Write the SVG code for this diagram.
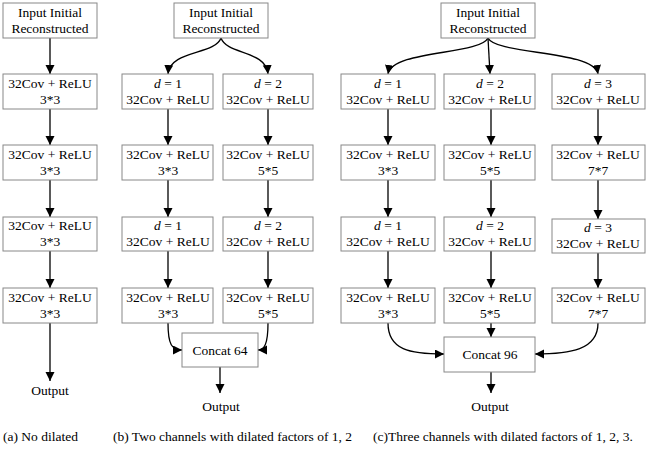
<svg xmlns="http://www.w3.org/2000/svg" width="650" height="449" viewBox="0 0 650 449" font-family="'Liberation Serif', 'Times New Roman', serif">
<style>
rect{fill:#fff;stroke:#888;stroke-width:1}
text{font-family:'Liberation Serif','Times New Roman',serif;font-size:13.5px;fill:#000;text-anchor:middle}
text.c{text-anchor:start}
.k path,.k line{fill:none;stroke:#000;stroke-width:1.3}
.h{fill:#000;stroke:none}
</style>
<defs><marker id="a" markerWidth="10" markerHeight="10" refX="9" refY="4.5" orient="auto" markerUnits="userSpaceOnUse"><path class="h" d="M0,0L9,4.5L0,9z"/></marker></defs>
<g id="connectors" class="k" marker-end="url(#a)">
<line x1="50" y1="38" x2="50" y2="74"/><line x1="50" y1="109" x2="50" y2="145"/><line x1="50" y1="180" x2="50" y2="217"/><line x1="50" y1="251" x2="50" y2="288"/><line x1="50" y1="323" x2="50" y2="381"/>
<path d="M221,38C215,55 170,50 168,74"/><path d="M221,38C227,55 266,50 268,74"/>
<line x1="168" y1="109" x2="168" y2="145"/><line x1="168" y1="180" x2="168" y2="217"/><line x1="168" y1="251" x2="168" y2="288"/>
<line x1="268" y1="109" x2="268" y2="145"/><line x1="268" y1="180" x2="268" y2="217"/><line x1="268" y1="251" x2="268" y2="288"/>
<path d="M168,323C168,345 172,350 182,350"/><path d="M268,323C268,345 264,350 258,350"/>
<line x1="220" y1="367" x2="220" y2="393"/>
<path d="M488,38C480,55 392,50 388,74"/><line x1="488" y1="38" x2="490" y2="74"/><path d="M488,38C496,55 594,50 598,74"/>
<line x1="388" y1="109" x2="388" y2="145"/><line x1="388" y1="180" x2="388" y2="217"/><line x1="388" y1="251" x2="388" y2="288"/>
<line x1="491" y1="109" x2="491" y2="145"/><line x1="491" y1="180" x2="491" y2="217"/><line x1="491" y1="251" x2="491" y2="288"/>
<line x1="598" y1="109" x2="598" y2="145"/><line x1="598" y1="180" x2="598" y2="219"/><line x1="598" y1="253" x2="598" y2="288"/>
<path d="M388,323C388,350 410,354 444,354"/><line x1="491" y1="323" x2="491" y2="337"/><path d="M598,323C598,350 570,354 535,354"/>
<line x1="491" y1="372" x2="491" y2="393"/>
</g>
<g id="a-in"><rect x="3" y="3" width="94" height="35"/><text x="50" y="17">Input Initial</text><text x="50" y="33">Reconstructed</text></g>
<g id="a1"><rect x="3" y="74" width="94" height="35"/><text x="50" y="88">32Cov + ReLU</text><text x="50" y="104">3*3</text></g>
<g id="a2"><rect x="3" y="145" width="94" height="35"/><text x="50" y="159">32Cov + ReLU</text><text x="50" y="175">3*3</text></g>
<g id="a3"><rect x="3" y="217" width="94" height="34"/><text x="50" y="230">32Cov + ReLU</text><text x="50" y="246">3*3</text></g>
<g id="a4"><rect x="3" y="288" width="94" height="35"/><text x="50" y="302">32Cov + ReLU</text><text x="50" y="318">3*3</text></g>
<g id="a-out"><text x="50" y="395">Output</text></g>

<g id="b-in"><rect x="174" y="3" width="94" height="35"/><text x="221" y="17">Input Initial</text><text x="221" y="33">Reconstructed</text></g>
<g id="b1"><rect x="122" y="74" width="91" height="35"/><text x="168" y="88"><tspan font-style="italic">d</tspan> = 1</text><text x="168" y="104">32Cov + ReLU</text></g>
<g id="b2"><rect x="122" y="145" width="91" height="35"/><text x="168" y="159">32Cov + ReLU</text><text x="168" y="175">3*3</text></g>
<g id="b3"><rect x="122" y="217" width="91" height="34"/><text x="168" y="230"><tspan font-style="italic">d</tspan> = 1</text><text x="168" y="246">32Cov + ReLU</text></g>
<g id="b4"><rect x="122" y="288" width="91" height="35"/><text x="168" y="302">32Cov + ReLU</text><text x="168" y="318">3*3</text></g>
<g id="b5"><rect x="223" y="74" width="90" height="35"/><text x="268" y="88"><tspan font-style="italic">d</tspan> = 2</text><text x="268" y="104">32Cov + ReLU</text></g>
<g id="b6"><rect x="223" y="145" width="90" height="35"/><text x="268" y="159">32Cov + ReLU</text><text x="268" y="175">5*5</text></g>
<g id="b7"><rect x="223" y="217" width="90" height="34"/><text x="268" y="230"><tspan font-style="italic">d</tspan> = 2</text><text x="268" y="246">32Cov + ReLU</text></g>
<g id="b8"><rect x="223" y="288" width="90" height="35"/><text x="268" y="302">32Cov + ReLU</text><text x="268" y="318">5*5</text></g>
<g id="b-cat"><rect x="182" y="333" width="76" height="34"/><text x="220" y="355">Concat 64</text></g>
<g id="b-out"><text x="221" y="411">Output</text></g>

<g id="c-in"><rect x="441" y="3" width="94" height="35"/><text x="488" y="17">Input Initial</text><text x="488" y="33">Reconstructed</text></g>
<g id="c1"><rect x="341" y="74" width="94" height="35"/><text x="388" y="88"><tspan font-style="italic">d</tspan> = 1</text><text x="388" y="104">32Cov + ReLU</text></g>
<g id="c2"><rect x="341" y="145" width="94" height="35"/><text x="388" y="159">32Cov + ReLU</text><text x="388" y="175">3*3</text></g>
<g id="c3"><rect x="341" y="217" width="94" height="34"/><text x="388" y="230"><tspan font-style="italic">d</tspan> = 1</text><text x="388" y="246">32Cov + ReLU</text></g>
<g id="c4"><rect x="341" y="288" width="94" height="35"/><text x="388" y="302">32Cov + ReLU</text><text x="388" y="318">3*3</text></g>
<g id="c5"><rect x="444" y="74" width="91" height="35"/><text x="490" y="88"><tspan font-style="italic">d</tspan> = 2</text><text x="490" y="104">32Cov + ReLU</text></g>
<g id="c6"><rect x="444" y="145" width="91" height="35"/><text x="490" y="159">32Cov + ReLU</text><text x="490" y="175">5*5</text></g>
<g id="c7"><rect x="444" y="217" width="91" height="34"/><text x="490" y="230"><tspan font-style="italic">d</tspan> = 2</text><text x="490" y="246">32Cov + ReLU</text></g>
<g id="c8"><rect x="444" y="288" width="91" height="35"/><text x="490" y="302">32Cov + ReLU</text><text x="490" y="318">5*5</text></g>
<g id="c9"><rect x="552" y="74" width="93" height="35"/><text x="598" y="88"><tspan font-style="italic">d</tspan> = 3</text><text x="598" y="104">32Cov + ReLU</text></g>
<g id="c10"><rect x="552" y="145" width="93" height="35"/><text x="598" y="159">32Cov + ReLU</text><text x="598" y="175">7*7</text></g>
<g id="c11"><rect x="552" y="219" width="93" height="34"/><text x="598" y="232"><tspan font-style="italic">d</tspan> = 3</text><text x="598" y="248">32Cov + ReLU</text></g>
<g id="c12"><rect x="552" y="288" width="93" height="35"/><text x="598" y="302">32Cov + ReLU</text><text x="598" y="318">7*7</text></g>
<g id="c-cat"><rect x="444" y="337" width="91" height="35"/><text x="490" y="359">Concat 96</text></g>
<g id="c-out"><text x="490" y="411">Output</text></g>

<g id="captions"><text class="c" x="3" y="441">(a) No dilated</text><text class="c" x="113" y="441">(b) Two channels with dilated factors of 1, 2</text><text class="c" x="373" y="441">(c)Three channels with dilated factors of 1, 2, 3.</text></g>
</svg>
